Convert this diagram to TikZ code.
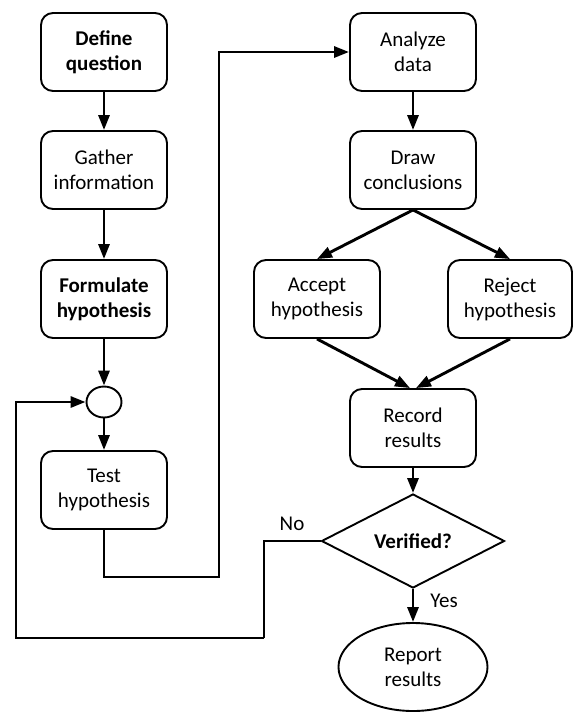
\documentclass[tikz,border=0pt]{standalone}
\usepackage{fontspec}
\setmainfont{Carlito}
\usetikzlibrary{shapes.geometric,arrows.meta}
\begin{document}
\begin{tikzpicture}[x=1pt,y=-1pt,
  txt/.style={font=\fontsize{21}{25}\selectfont},
  box/.style={draw, line width=1.9pt, rounded corners=12pt, minimum width=126pt, minimum height=78pt, align=center, inner sep=0pt, txt},
  arr/.style={line width=2.9pt, -{Triangle[length=15pt,width=11pt]}},
  thin/.style={line width=1.4pt}]
\useasboundingbox (0,0) rectangle (574,713);
\node[box] (dq) at (104,52) {\textbf{Define}\\\textbf{question}};
\node[box] (gi) at (104,170) {Gather\\information};
\node[box] (fh) at (104,299) {\textbf{Formulate}\\\textbf{hypothesis}};
\node[draw, line width=1.9pt, ellipse, minimum width=35pt, minimum height=31pt, inner sep=0pt] (circ) at (104,402) {};
\node[box] (th) at (104,490) {Test\\hypothesis};
\node[box] (ad) at (413,52) {Analyze\\data};
\node[box] (dc) at (413,170) {Draw\\conclusions};
\node[box] (ah) at (317,299) {Accept\\hypothesis};
\node[box, minimum width=124pt] (rh) at (510,299) {Reject\\hypothesis};
\node[box] (rr) at (413,428) {Record\\results};
\node[draw, line width=1.9pt, diamond, aspect=2, minimum width=183pt, minimum height=94pt, inner sep=0pt, txt] (ver) at (413,541) {\textbf{Verified?}};
\node[draw, line width=1.9pt, ellipse, minimum width=149pt, minimum height=88pt, inner sep=0pt, align=center, txt] (rep) at (413,667) {Report\\results};
\node[txt] (no) at (292,524) {No};
\node[txt] (yes) at (444,601) {Yes};
\coordinate (c1) at (219,577);
\coordinate (c2) at (219,52);
\coordinate (n1) at (264,541);
\coordinate (n2) at (264,638);
\coordinate (n3) at (16,638);
\coordinate (n4) at (16,402);
\draw[arr] (dq.south) -- (gi.north);
\draw[arr] (gi.south) -- (fh.north);
\draw[arr] (fh.south) -- (circ.north);
\draw[arr] (circ.south) -- (th.north);
\draw[arr] (th.south) |- (c1) -- (c2) -- (ad.west);
\draw[arr] (ad.south) -- (dc.north);
\draw[arr] (dc.south) -- (ah.north);
\draw[arr] (dc.south) -- (rh.north);
\draw[arr] (ah.south) -- ([xshift=-3pt]rr.north);
\draw[arr] (rh.south) -- ([xshift=3pt]rr.north);
\draw[arr] (rr.south) -- (ver.north);
\draw[arr] (ver.south) -- (rep.north);
\draw[thin] (ver.west) -- (n1) -- (n2);
\draw[arr] (n2) -- (n3) -- (n4) -- (circ.west);
\end{tikzpicture}
\end{document}
